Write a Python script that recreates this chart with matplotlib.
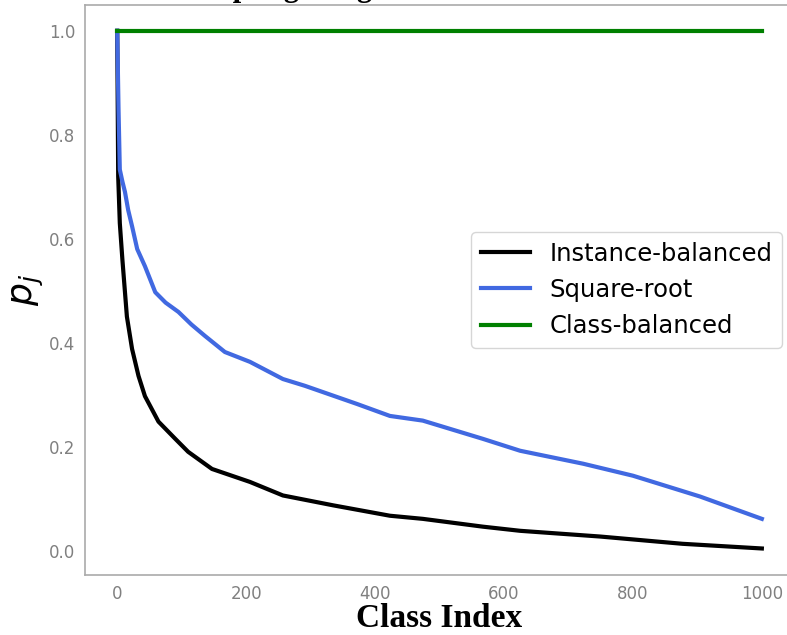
import numpy as np
import matplotlib
matplotlib.use('Agg')
import matplotlib.pyplot as plt

# values
inst_x = [0, 1.5, 4, 8, 15, 23, 33, 43, 64, 90, 110, 147, 206, 257, 335, 423, 474, 567, 625, 749, 877, 1000]
inst_y = [1.0, 0.72, 0.63, 0.56, 0.45, 0.388, 0.336, 0.297, 0.248, 0.215, 0.19, 0.157, 0.132, 0.106,
          0.087, 0.067, 0.061, 0.046, 0.038, 0.027, 0.013, 0.004]

sqrt_x = [0, 2, 4, 8, 12, 17, 23, 31, 43, 59, 75, 95, 115, 136, 167, 206, 257, 291, 372, 423, 474,
          567, 625, 723, 800, 904, 1000]
sqrt_y = [1.0, 0.85, 0.733, 0.71, 0.69, 0.655, 0.624, 0.58, 0.547, 0.497, 0.477, 0.459, 0.435, 0.413,
          0.382, 0.363, 0.33, 0.317, 0.282, 0.259, 0.25, 0.215, 0.192, 0.167, 0.144, 0.104, 0.061]

cls_x = [0, 1000]
cls_y = [1.0, 1.0]

fig = plt.figure(figsize=(7.87, 6.35), dpi=100)
ax = fig.add_axes([0.108, 0.0945, 0.901, 0.898])

ax.plot(inst_x, inst_y, color='black', lw=3, label='Instance-balanced')
ax.plot(sqrt_x, sqrt_y, color='royalblue', lw=3, label='Square-root')
ax.plot(cls_x, cls_y, color='green', lw=3, label='Class-balanced')

ax.set_xlim(-50, 1050)
ax.set_ylim(-0.047, 1.05)
ax.set_xticks([0, 200, 400, 600, 800, 1000])
ax.set_yticks([0.0, 0.2, 0.4, 0.6, 0.8, 1.0])
ax.tick_params(length=0, labelsize=12, labelcolor='#808080', pad=7)
for s in ax.spines.values():
    s.set_color('#aaaaaa')
    s.set_linewidth(1.2)

ax.set_xlabel('Class Index', fontfamily='Liberation Serif', fontweight='bold', fontsize=24, labelpad=0)
ax.set_ylabel('$p_j$', fontsize=26, labelpad=2)

leg = ax.legend(loc='center right', fontsize=17.5, handlelength=2.0, frameon=True)
leg.get_frame().set_edgecolor('#cccccc')

# title mostly cut off at the top of the picture, only descenders show
fig.text(0.372, 1.007, 'Sampling Weights', fontfamily='Liberation Serif', fontweight='bold',
         fontsize=22, ha='center', va='baseline')

fig.savefig('out.png', dpi=100)
